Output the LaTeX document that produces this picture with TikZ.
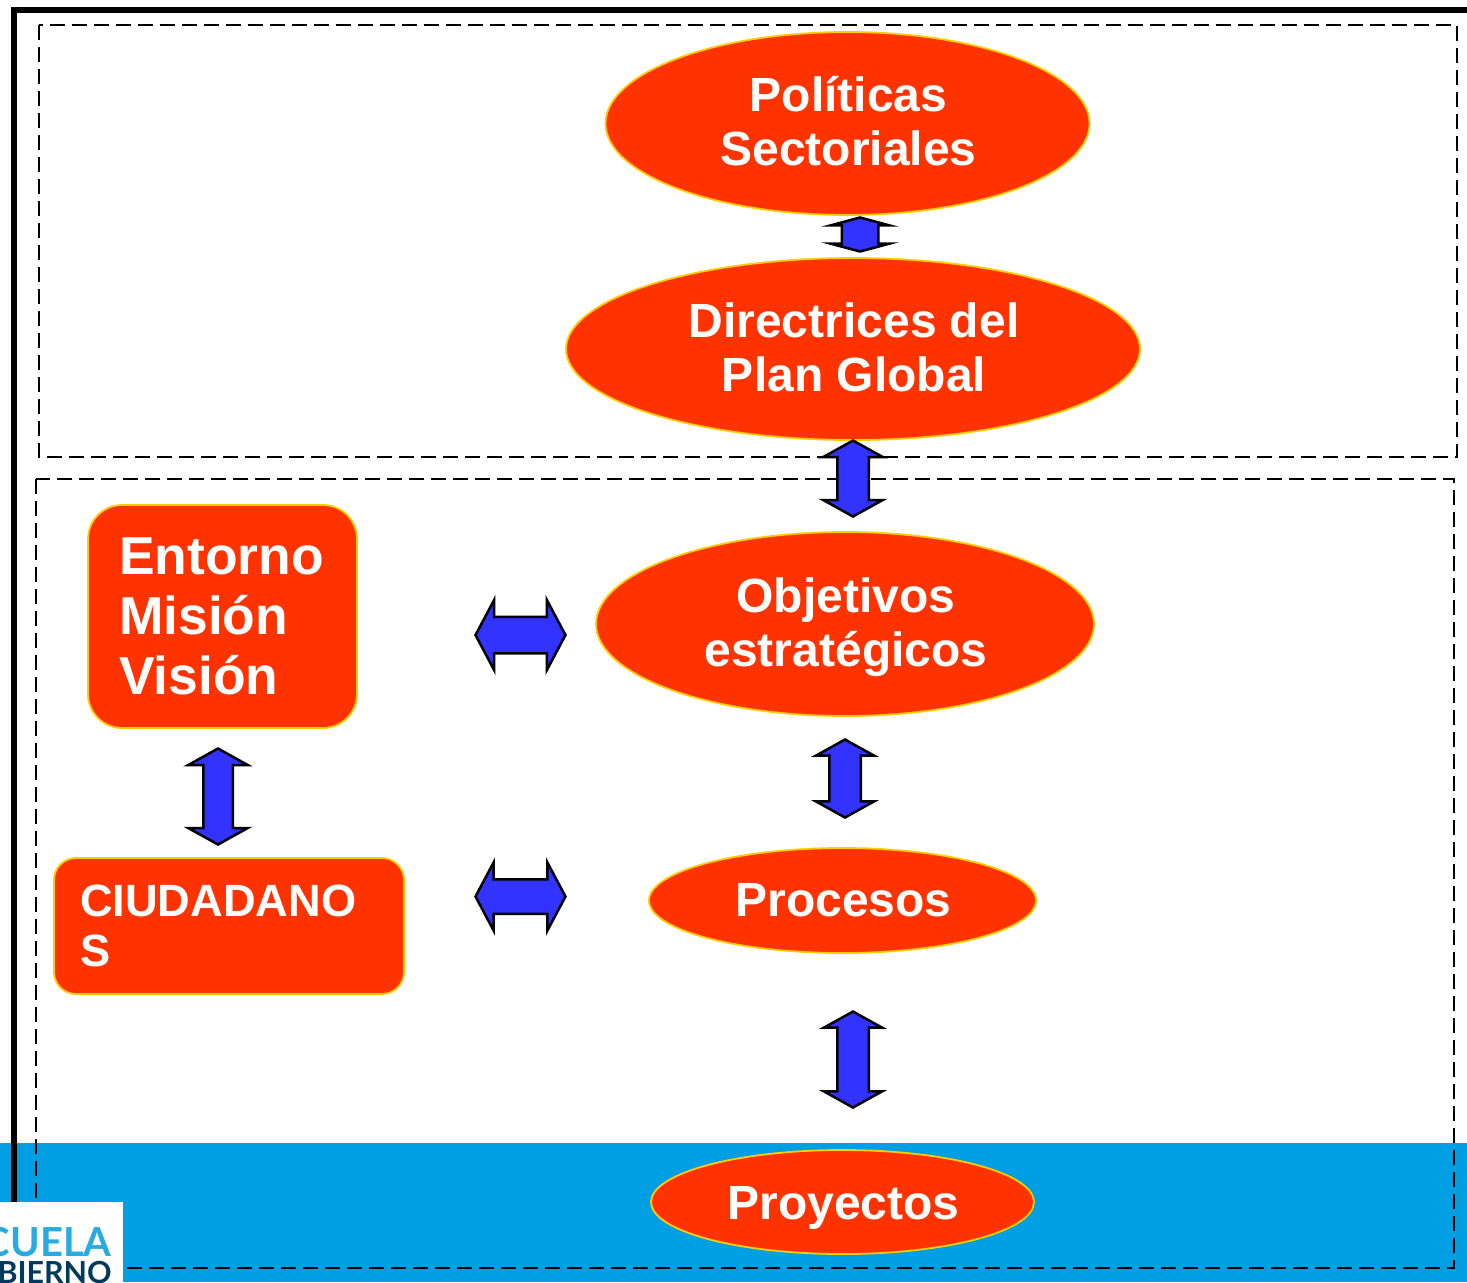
\documentclass[tikz,border=0pt]{standalone}
\usepackage{fontspec}
\setmainfont{Liberation Sans}
\newfontfamily\logofont{Lato}
\usetikzlibrary{shapes.geometric,shapes.arrows}
\definecolor{naranja}{HTML}{FF3300}
\definecolor{borde}{HTML}{FFCC00}
\definecolor{azul}{HTML}{3333FF}
\definecolor{franja}{HTML}{009FE3}
\definecolor{logoclaro}{HTML}{29ABE2}
\definecolor{logooscuro}{HTML}{003A5D}
\tikzset{
	elipse/.style={ellipse,fill=naranja,draw=borde,line width=0.9pt,inner sep=0pt},
	texto/.style={inner sep=0pt,xshift=0.5pt,text=white,align=center,font=\fontsize{24}{27}\selectfont\bfseries},
	caja/.style={rounded corners=#1,fill=naranja,draw=borde,line width=0.9pt,inner ysep=0pt,text=white,align=left},
	flecha/.style={double arrow,double arrow head extend=#1,fill=azul,draw=black,line width=1.25pt,inner xsep=0pt,minimum width=0pt},
	marco/.style={dashed,dash pattern=on 7.5pt off 3.5pt,line width=0.9pt}
}
\begin{document}
\begin{tikzpicture}[x=0.5pt,y=-0.5pt]
		\useasboundingbox (0,0) rectangle (1467,1282);
		\fill[franja] (0,1143) rectangle (1467,1282);
		\draw[line width=3pt] (14,1202) -- (14,10) -- (1467,10);
		\draw[marco] (39,25) rectangle (1457,457);
		\draw[marco] (36,479) rectangle (1454,1268);
		
		\fill[white] (0,1202) rectangle (123,1282);
		\begin{scope}
			\clip (0,1202) rectangle (123,1282);
			\node[anchor=base east,inner sep=0pt,text=logoclaro,font=\fontsize{20}{20}\logofont\bfseries] (logoa) at (112,1256) {CUELA};
			\node[anchor=base east,inner sep=0pt,text=logooscuro,font=\fontsize{15.2}{15}\logofont\bfseries] (logob) at (112,1283) {BIERNO};
		\end{scope}
		
		\node[elipse,minimum width=242pt,minimum height=91.5pt,label={[texto,yshift=1pt]center:Políticas\\Sectoriales}] (politicas) at (847.5,123.5) {};
		\node[elipse,minimum width=287pt,minimum height=91pt,label={[texto,yshift=1pt]center:Directrices del\\Plan Global}] (directrices) at (853,349) {};
		\node[elipse,minimum width=249pt,minimum height=92pt,label={[texto,yshift=-1.5pt]center:Objetivos\\estratégicos}] (objetivos) at (845,624) {};
		\node[elipse,minimum width=193.5pt,minimum height=52.5pt,label={[texto]center:Procesos}] (procesos) at (842.5,900.5) {};
		\node[elipse,minimum width=191.5pt,minimum height=52pt,label={[texto,yshift=-3pt]center:Proyectos}] (proyectos) at (842.5,1202) {};
		
		\node[caja=17pt,minimum height=111.5pt,text width=103.5pt,inner xsep=15.5pt,font=\fontsize{26.7}{30}\selectfont\bfseries] (entorno) at (222.5,616.5) {Entorno\\Misión\\Visión};
		\node[caja=11pt,minimum height=68pt,text width=149pt,inner xsep=13pt,font=\fontsize{22.6}{25}\selectfont\bfseries] (ciudadanos) at (229,926) {CIUDADANO\\S};
		
		\foreach \nombre/\x/\y/\largo/\faja/\ext/\punta/\giro in {
			fa/860/234.5/17/8.5/5.5/150/90,
			fb/853/478.5/38/7.25/7/122/90,
			fc/218/796.5/48/6.75/7.5/122/90,
			fd/845/778.5/39/7.25/6.75/122/90,
			fe/853/1059.5/48/7.25/6.75/122/90,
			fg/520.5/635/45/8.5/8.5/124/0,
			fh/520.5/896.5/45/8/8.5/124/0}{
			\node[flecha=\ext pt,double arrow tip angle=\punta,minimum height=\largo pt,inner ysep=\faja pt,rotate=\giro] (\nombre) at (\x,\y) {};
		}
\end{tikzpicture}
\end{document}
